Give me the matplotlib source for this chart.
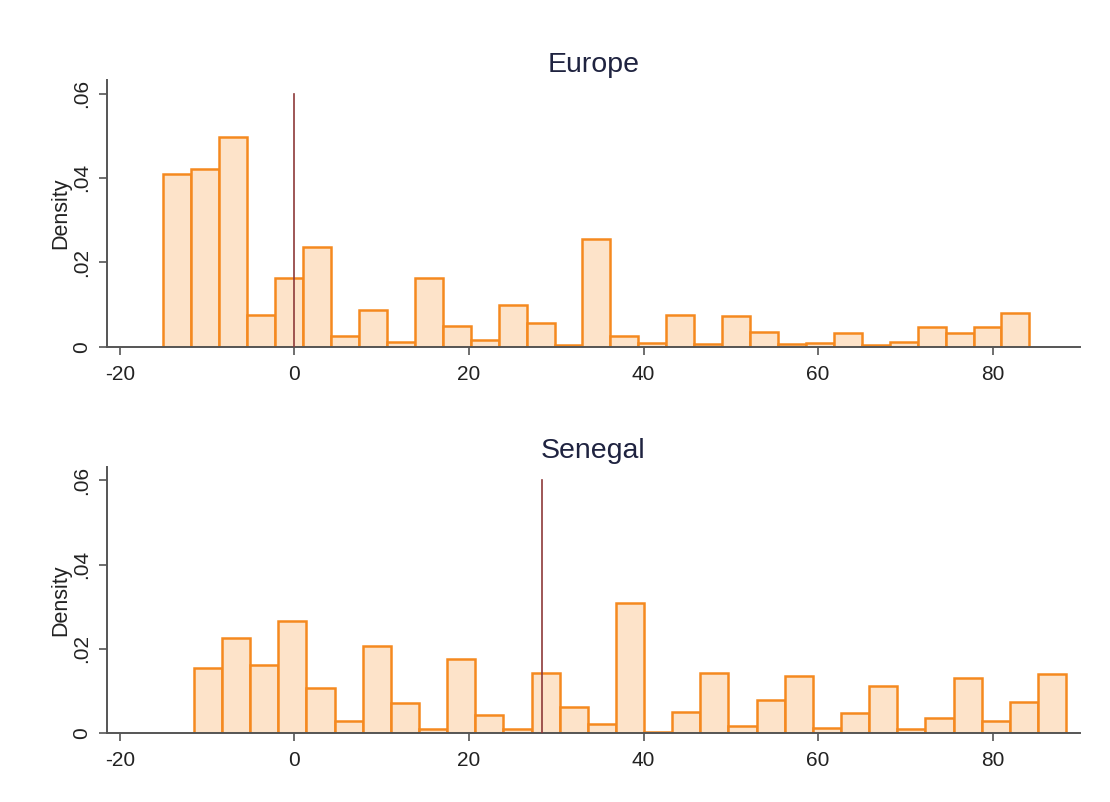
import numpy as np
import matplotlib
matplotlib.use("Agg")
import matplotlib.pyplot as plt

plt.rcParams['font.family'] = ['Liberation Sans', 'DejaVu Sans']

# Europe histogram: 31 bins from -15 to 84
europe_range = (-15.0, 84.2)
europe_density = [0.0409, 0.0422, 0.0498, 0.0074, 0.0162, 0.0236, 0.0025, 0.0087,
                  0.0010, 0.0162, 0.0050, 0.0016, 0.0098, 0.0055, 0.0004, 0.0255,
                  0.0025, 0.0008, 0.0074, 0.0006, 0.0073, 0.0036, 0.0006, 0.0008,
                  0.0033, 0.0003, 0.0011, 0.0047, 0.0032, 0.0047, 0.0079]
europe_ref = 0.0

# Senegal histogram: 31 bins from -11.5 to 88.4
senegal_range = (-11.5, 88.4)
senegal_density = [0.0155, 0.0227, 0.0161, 0.0266, 0.0108, 0.0029, 0.0208, 0.0071,
                   0.0009, 0.0176, 0.0044, 0.0009, 0.0142, 0.0062, 0.0021, 0.0310,
                   0.0004, 0.0050, 0.0143, 0.0018, 0.0078, 0.0136, 0.0013, 0.0048,
                   0.0111, 0.0010, 0.0036, 0.0131, 0.0029, 0.0074, 0.0141]
senegal_ref = 28.4

panels = [("Europe", europe_range, europe_density, europe_ref),
          ("Senegal", senegal_range, senegal_density, senegal_ref)]

x_ticks = [-20, 0, 20, 40, 60, 80]
y_ticks = [0, 0.02, 0.04, 0.06]
y_ticklabels = ["0", ".02", ".04", ".06"]

fill_color = "#FDE3C9"
edge_color = "#F5891F"
line_color = "#8E3A3A"
spine_color = "#555555"
title_color = "#1F2340"
text_color = "#222222"

fig = plt.figure(figsize=(11.10, 8.02), dpi=100)
positions = [[0.0961, 0.5677, 0.8769, 0.3325], [0.0961, 0.0857, 0.8769, 0.3323]]

for (name, rng, dens, ref), pos in zip(panels, positions):
    ax = fig.add_axes(pos)
    n = len(dens)
    edges = np.linspace(rng[0], rng[1], n + 1)
    widths = np.diff(edges)
    ax.bar(edges[:-1], dens, width=widths, align='edge', color=fill_color,
           edgecolor=edge_color, linewidth=1.8, zorder=2)
    ax.plot([ref, ref], [0, 0.06], color=line_color, linewidth=1.2, zorder=3)
    ax.set_xlim(-21.5, 90.0)
    ax.set_ylim(0, 0.0632)
    ax.set_xticks(x_ticks)
    ax.set_xticklabels([str(t) for t in x_ticks])
    ax.set_yticks(y_ticks)
    ax.set_yticklabels(y_ticklabels, rotation=90, va='center')
    for s in ['top', 'right']:
        ax.spines[s].set_visible(False)
    for s in ['left', 'bottom']:
        ax.spines[s].set_color(spine_color)
        ax.spines[s].set_linewidth(1.4)
    ax.tick_params(axis='both', colors=spine_color, labelcolor=text_color,
                   labelsize=15, length=6, width=1.2)
    ax.tick_params(axis='x', pad=7)
    ax.tick_params(axis='y', pad=5)
    ax.set_ylabel("Density", fontsize=15.5, color=text_color, labelpad=1)
    ax.set_title(name, fontsize=20.5, color=title_color, pad=6)

fig.savefig("out.png", dpi=100, facecolor="white")
